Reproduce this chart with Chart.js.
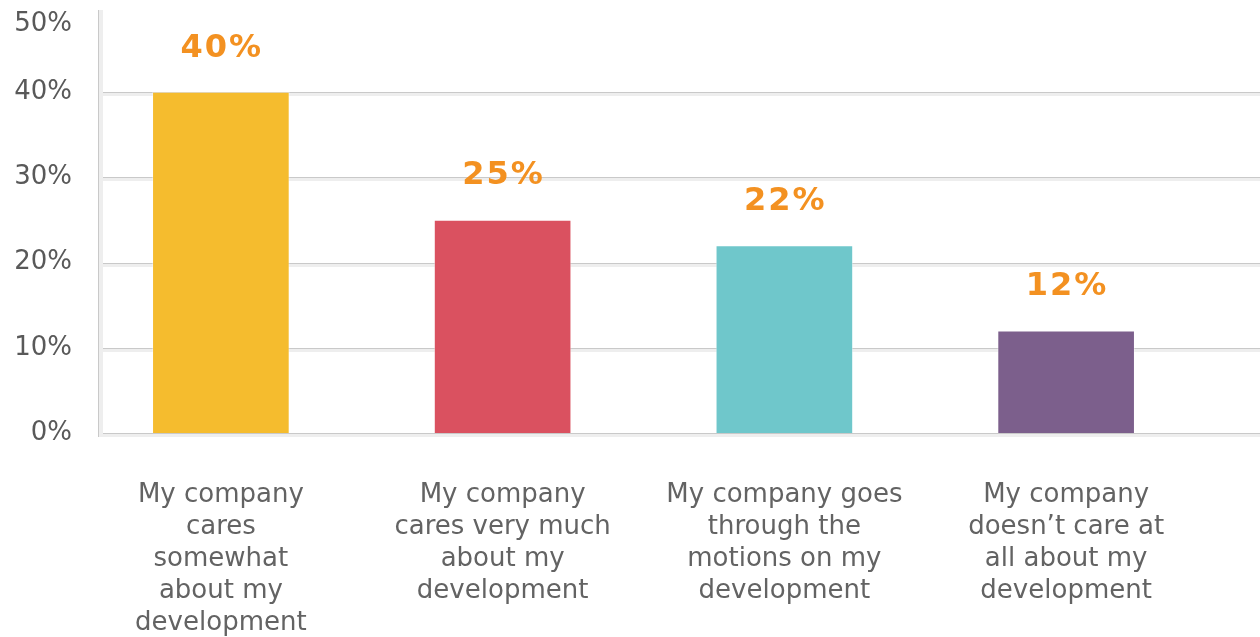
<!DOCTYPE html>
<html>
<head>
<meta charset="utf-8">
<script src="https://cdn.jsdelivr.net/npm/chart.js@4/dist/chart.umd.min.js"></script>
<style>
  html, body { margin: 0; padding: 0; background: #ffffff; }
  #wrap { width: 1260px; height: 637px; position: relative; }
</style>
</head>
<body>
<div id="wrap"><canvas id="chart"></canvas></div>
<script>
// Survey answers: how much does the company care about my development
const categories = [
  ["My company", "cares", "somewhat", "about my", "development"],
  ["My company", "cares very much", "about my", "development"],
  ["My company goes", "through the", "motions on my", "development"],
  ["My company", "doesn\u2019t care at", "all about my", "development"]
];
const shares = [40, 25, 22, 12];
const shareLabels = ["40%", "25%", "22%", "12%"];
const barColors = ["#F5BC2E", "#DA5160", "#6FC7CB", "#7C5F8C"];
const yTickValues = [0, 10, 20, 30, 40, 50];

const FONT = "'DejaVu Sans', sans-serif";
const AXIS_X = 98;

// Gridlines: a thin grey rule with a pale band below it, running to the canvas edge
const gridPlugin = {
  id: "softGrid",
  beforeDatasetsDraw(chart) {
    const { ctx, chartArea, scales, width } = chart;
    const y = scales.y;
    ctx.save();
    yTickValues.forEach(v => {
      if (v === y.max) return;
      const py = Math.round(y.getPixelForValue(v));
      ctx.fillStyle = "#eeeeee";
      ctx.fillRect(AXIS_X + 4, py, width - AXIS_X, 4);
      ctx.fillStyle = "#c9c9c9";
      ctx.fillRect(AXIS_X + 4, py, width - AXIS_X, 1);
    });
    // vertical axis rule
    ctx.fillStyle = "#eeeeee";
    ctx.fillRect(AXIS_X, chartArea.top + 3, 5, chartArea.bottom - chartArea.top + 1);
    ctx.fillStyle = "#c9c9c9";
    ctx.fillRect(AXIS_X, chartArea.top + 3, 1, chartArea.bottom - chartArea.top + 1);
    ctx.restore();
  },
  afterDraw(chart) {
    const { ctx, scales } = chart;
    const y = scales.y;
    ctx.save();
    ctx.font = "26px " + FONT;
    ctx.fillStyle = "#595959";
    ctx.textAlign = "right";
    ctx.textBaseline = "middle";
    yTickValues.forEach(v => {
      const py = Math.max(y.getPixelForValue(v), 24);
      ctx.fillText(v + "%", 72, py);
    });
    ctx.restore();
  }
};

// Value labels above each bar
const valueLabelPlugin = {
  id: "valueLabels",
  afterDatasetsDraw(chart) {
    const { ctx } = chart;
    const meta = chart.getDatasetMeta(0);
    ctx.save();
    ctx.font = "bold 32px " + FONT;
    ctx.letterSpacing = "2px";
    ctx.fillStyle = "#F39121";
    ctx.textAlign = "center";
    ctx.textBaseline = "middle";
    meta.data.forEach((bar, i) => {
      ctx.fillText(shareLabels[i], bar.x + 1, bar.y - 44);
    });
    ctx.restore();
  }
};

new Chart(document.getElementById("chart"), {
  type: "bar",
  data: {
    labels: categories,
    datasets: [{
      data: shares,
      backgroundColor: barColors,
      borderColor: "rgba(255,255,255,0.35)",
      borderWidth: 1,
      borderSkipped: "bottom",
      barThickness: 137
    }]
  },
  options: {
    responsive: true,
    maintainAspectRatio: false,
    animation: false,
    layout: { padding: { top: 7, right: 53, left: 0, bottom: 0 } },
    plugins: {
      legend: { display: false },
      tooltip: { enabled: false }
    },
    scales: {
      x: {
        grid: { display: false, drawTicks: false },
        border: { display: false },
        ticks: {
          autoSkip: false,
          maxRotation: 0,
          minRotation: 0,
          padding: 46,
          color: "#636363",
          font: { family: FONT, size: 26, lineHeight: 1.23 }
        },
        afterFit(scale) { scale.height = 204; }
      },
      y: {
        min: 0,
        max: 50,
        grid: { display: false, drawTicks: false },
        border: { display: false },
        ticks: { display: false, stepSize: 10 },
        afterFit(scale) { scale.width = 80; }
      }
    }
  },
  plugins: [gridPlugin, valueLabelPlugin]
});
</script>
</body>
</html>
